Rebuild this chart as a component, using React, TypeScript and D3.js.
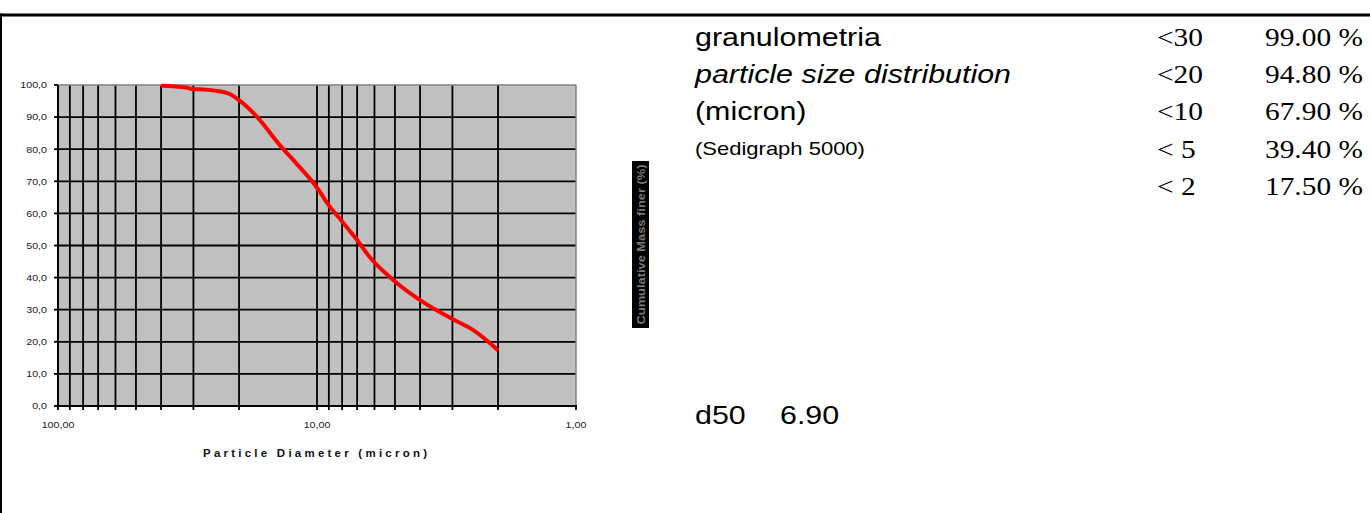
import React from "react";
import * as d3 from "d3";

// ---- data ----
const DIAMETER = [40, 32, 30, 27.5, 22, 20, 17, 14, 12, 10, 9, 8, 7, 6.2, 5, 4, 3, 2.5, 2];
const PERCENT_FINER = [99.8, 99.2, 98.7, 98.6, 97.4, 95.3, 90.0, 81.5, 75.5, 68.0, 62.5, 57.5, 51.7, 46.0, 38.8, 33.0, 27.1, 23.7, 17.4];

const X_MAJOR = [100, 10, 1];
const X_MAJOR_LABELS = ["100,00", "10,00", "1,00"];
const X_MINOR = [90, 80, 70, 60, 50, 40, 30, 20, 9, 8, 7, 6, 5, 4, 3, 2];
const Y_TICKS = [0, 10, 20, 30, 40, 50, 60, 70, 80, 90, 100];

const X_TITLE = "Particle Diameter (micron)";
const Y_TITLE = "Cumulative Mass finer (%)";

const INFO_LINES = ["granulometria", "particle size distribution", "(micron)"];
const INFO_NOTE = "(Sedigraph 5000)";
const SIZE_LIMITS = ["<30", "<20", "<10", "< 5", "< 2"];
const SIZE_PERCENT = ["99.00 %", "94.80 %", "67.90 %", "39.40 %", "17.50 %"];
const D50_LABEL = "d50";
const D50_VALUE = "6.90";

const SANS = "'Liberation Sans', Arial, Helvetica, sans-serif";
const SERIF = "'Liberation Serif', 'Times New Roman', serif";

function SText({ x, y, sx = 1.17, children, ...rest }: any) {
  return (
    <text transform={`translate(${x},${y}) scale(${sx},1)`} {...rest}>
      {children}
    </text>
  );
}

export default function App() {
  const W = 1370, H = 513;
  const left = 58, right = 576, top = 85, bottom = 406;
  const x = d3.scaleLog().domain([100, 1]).range([left, right]);
  const y = d3.scaleLinear().domain([0, 100]).range([bottom, top]);
  const line = d3
    .line<number>()
    .x((_, i) => x(DIAMETER[i]))
    .y((d) => y(d))
    .curve(d3.curveMonotoneX);

  const rowBase = (i: number) => 46 + i * 37.2;

  return (
    <svg
      width={W}
      height={H}
      style={{ position: "absolute", left: 0, top: 0, background: "#fff" }}
    >
      <rect x={0} y={0} width={W} height={H} fill="#fff" />
      {/* page borders */}
      <rect x={0} y={13.5} width={W} height={3} fill="#000" />
      <rect x={0} y={13.5} width={2} height={H} fill="#000" />

      {/* plot area */}
      <rect x={left} y={top} width={right - left} height={bottom - top} fill="#c0c0c0" />
      {Y_TICKS.filter((t) => t > 0 && t < 100).map((t) => (
        <line key={"hy" + t} x1={left} x2={right} y1={y(t)} y2={y(t)} stroke="#000" strokeWidth={1.8} />
      ))}
      {X_MINOR.concat([10]).map((t) => (
        <line key={"vx" + t} x1={x(t)} x2={x(t)} y1={top} y2={bottom} stroke="#000" strokeWidth={1.8} />
      ))}
      {/* plot frame: grey top/right */}
      <line x1={left} x2={right} y1={top} y2={top} stroke="#808080" strokeWidth={1.5} />
      <line x1={right} x2={right} y1={top} y2={bottom} stroke="#808080" strokeWidth={1.5} />
      {/* axes */}
      <line x1={left} x2={left} y1={top} y2={bottom + 1} stroke="#000" strokeWidth={2} />
      <line x1={left - 1} x2={right + 1} y1={bottom} y2={bottom} stroke="#000" strokeWidth={2} />
      {Y_TICKS.map((t) => (
        <line key={"ty" + t} x1={left - 4} x2={left} y1={y(t)} y2={y(t)} stroke="#000" strokeWidth={1.8} />
      ))}
      {X_MINOR.concat(X_MAJOR).map((t) => (
        <line key={"tx" + t} x1={x(t)} x2={x(t)} y1={bottom} y2={bottom + 4} stroke="#000" strokeWidth={1.8} />
      ))}
      {Y_TICKS.map((t) => (
        <SText
          key={"ly" + t}
          x={47}
          y={y(t) + 3.3}
          sx={1.15}
          textAnchor="end"
          fontFamily={SANS}
          fontSize={9.3}
          fill="#222"
        >
          {t.toFixed(1).replace(".", ",")}
        </SText>
      ))}
      {X_MAJOR.map((t, i) => (
        <SText
          key={"lx" + t}
          x={x(t)}
          y={428}
          sx={1.15}
          textAnchor="middle"
          fontFamily={SANS}
          fontSize={9.3}
          fill="#222"
        >
          {X_MAJOR_LABELS[i]}
        </SText>
      ))}
      <text
        x={315}
        y={457}
        textAnchor="middle"
        fontFamily={SANS}
        fontSize={11.5}
        fontWeight="bold"
        fill="#111"
        textLength={224}
        lengthAdjust="spacing"
      >
        {X_TITLE}
      </text>

      {/* data line */}
      <path
        d={line(PERCENT_FINER) || ""}
        fill="none"
        stroke="#ff0000"
        strokeWidth={4}
        strokeLinejoin="round"
        strokeLinecap="butt"
      />

      {/* rotated y title */}
      <rect x={632} y={161} width={17} height={167} fill="#000" />
      <text
        transform={`translate(645,${244.5}) rotate(-90)`}
        textAnchor="middle"
        fontFamily={SANS}
        fontSize={11}
        fontWeight="bold"
        fill="#7a7a7a"
        textLength={160}
        lengthAdjust="spacingAndGlyphs"
      >
        {Y_TITLE}
      </text>

      {/* info text block */}
      {INFO_LINES.map((s, i) => (
        <SText
          key={"info" + i}
          x={695}
          y={rowBase(i)}
          fontFamily={SANS}
          fontSize={26}
          fontStyle={i === 1 ? "italic" : "normal"}
          fill="#000"
        >
          {s}
        </SText>
      ))}
      <SText x={695} y={155} fontFamily={SANS} fontSize={18.8} fill="#000">
        {INFO_NOTE}
      </SText>
      {SIZE_LIMITS.map((s, i) => (
        <SText
          key={"lim" + i}
          x={1157}
          y={rowBase(i)}
          sx={1.13}
          fontFamily={SERIF}
          fontSize={26}
          fill="#000"
          style={{ whiteSpace: "pre" }}
        >
          {s}
        </SText>
      ))}
      {SIZE_PERCENT.map((s, i) => (
        <SText
          key={"pct" + i}
          x={1265}
          y={rowBase(i)}
          sx={1.13}
          fontFamily={SERIF}
          fontSize={26}
          fill="#000"
        >
          {s}
        </SText>
      ))}
      <SText x={695} y={424} fontFamily={SANS} fontSize={26} fill="#000">
        {D50_LABEL}
      </SText>
      <SText x={780} y={424} fontFamily={SANS} fontSize={26} fill="#000">
        {D50_VALUE}
      </SText>
    </svg>
  );
}
